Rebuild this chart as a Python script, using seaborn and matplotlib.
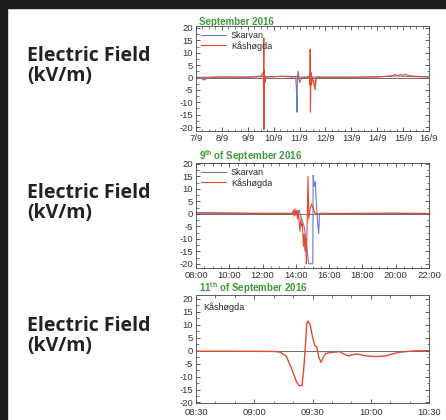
import matplotlib
matplotlib.use("Agg")
import matplotlib.pyplot as plt
from matplotlib.lines import Line2D
from matplotlib.patches import Rectangle
from matplotlib.ticker import AutoMinorLocator, FixedLocator
import pandas as pd
import seaborn as sns

# Painel 1: setembro 2016 (x em dias do mês)
P1_SKARVAN_T = [7.0, 7.2, 7.3, 7.4, 7.6, 8.0, 9.0, 9.5, 9.6, 9.7, 10.0, 10.5, 10.85, 10.88, 10.9,
                10.92, 10.95, 10.98, 11.0, 11.1, 12.0, 13.0, 14.0, 14.5, 14.7, 14.8, 14.9, 15.0,
                15.1, 15.2, 15.5, 16.0]
P1_SKARVAN_V = [0, -0.3, -1, -0.5, 0.1, 0.2, 0.1, 0.3, 0.5, 0.3, 0.4, 0.5, 0.3, -5, -14,
                0.5, 2.5, 0.5, 0.2, 0.1, 0.1, 0.1, 0.2, 0.6, 1.2, 0.8, 1.2, 1.0,
                1.3, 0.8, 0.5, 0.3]
P1_KASH_T = [7.0, 7.5, 8.0, 8.5, 9.0, 9.5, 9.6, 9.61, 9.62, 9.625, 9.63, 9.64, 9.65, 9.67, 9.7,
             9.8, 10.0, 10.3, 10.5, 10.7, 10.95, 11.0, 11.05, 11.1, 11.3, 11.38, 11.4, 11.41,
             11.42, 11.44, 11.46, 11.5, 11.6, 11.61, 11.62, 11.65, 12.0, 13.0, 14.0, 14.5,
             14.8, 15.0, 15.5, 16.0]
P1_KASH_V = [0.1, 0.1, 0.2, 0.2, 0.2, 0.5, 2, -4, 16, -21, 3, -8, 1, -2, 0.3,
             0.2, 0.3, 0.5, 0.3, 0.2, 0.5, -2, -1, 0, 0.2, 0.5, -3, 11.5,
             -14, 2, -3, 0.2, -5, -1, -3, 0.2, 0.1, 0.1, 0.3, 0.5,
             0.6, 0.5, 0.3, 0.2]
P1_TICKS = [7, 8, 9, 10, 11, 12, 13, 14, 15, 16]
P1_LABELS = ["7/9", "8/9", "9/9", "10/9", "11/9", "12/9", "13/9", "14/9", "15/9", "16/9"]

# Painel 2: 9 de setembro (x em horas)
P2_SKARVAN_T = [8, 10, 12, 13.8, 14.0, 14.2, 14.3, 14.4, 14.5, 14.6, 14.77, 15.02, 15.04, 15.1,
                15.17, 15.22, 15.3, 15.37, 15.42, 15.5, 16, 18, 20, 22]
P2_SKARVAN_V = [0.5, 0.4, 0.2, 0.2, 0.5, 1.5, -1, -3, -5, -10, -20, -20, 15.5, 11,
                13, 6, -3, -8, 0, 0.3, 0.2, 0.2, 0.3, 0.2]
P2_KASH_T = [8, 10, 12, 13.8, 13.86, 13.9, 13.95, 14.0, 14.05, 14.1, 14.15, 14.2, 14.25, 14.3,
             14.35, 14.4, 14.45, 14.5, 14.55, 14.6, 14.63, 14.68, 14.73, 14.78, 14.85, 14.95,
             15.05, 15.15, 15.3, 16, 18, 20, 22]
P2_KASH_V = [0.3, 0.2, 0.2, 0.2, 1.5, -1, 2, -0.5, 1.5, -2, 1, -3, -7, -2,
             -5, -4, -13, -8, -15, -10, -20, -3, 15, -2, 2, 4,
             2, 0.3, 0, 0.1, 0.2, 0.2, 0.1]
P2_TICKS = [8, 10, 12, 14, 16, 18, 20, 22]
P2_LABELS = ["08:00", "10:00", "12:00", "14:00", "16:00", "18:00", "20:00", "22:00"]

# Painel 3: 11 de setembro (x em minutos depois de 08:30)
P3_KASH_T = [0, 20, 40, 43, 46.4, 49, 51.5, 53, 54.6, 55.4, 56.2, 57, 57.6, 58.8, 60.1, 61.2,
             62.2, 63.2, 64.4, 65.6, 67, 70.4, 73.9, 77.3, 79, 80.6, 83.3, 87.6, 92.8, 97.9,
             101.4, 104.8, 111.7, 120]
P3_KASH_V = [-0.2, -0.2, -0.3, -0.5, -2, -6.5, -11.5, -13.5, -13.5, -7.7, 0, 10, 11.5, 10, 5, 2,
             1.5, -2.5, -4.5, -2.5, -1, -0.6, -0.4, -1.7, -2, -1.5, -1.3, -2, -2.3, -2,
             -1.2, -0.6, -0.1, 0]
P3_TICKS = [0, 30, 60, 90, 120]
P3_LABELS = ["08:30", "09:00", "09:30", "10:00", "10:30"]

TITULOS = ["September 2016", r"9$^{\mathbf{th}}$ of September 2016",
           r"11$^{\mathbf{th}}$ of September 2016"]
Y_TICKS = [20, 15, 10, 5, 0, -5, -10, -15, -20]

AZUL = "#6f78c4"
VERMELHO = "#e5482a"
VERDE = "#3f9a3a"

sns.set_style("ticks")
plt.rcParams["font.family"] = ["Liberation Sans", "DejaVu Sans"]
plt.rcParams["mathtext.fontset"] = "custom"
plt.rcParams["mathtext.bf"] = "Liberation Sans:bold"
plt.rcParams["axes.unicode_minus"] = False

fig = plt.figure(figsize=(4.46, 4.20), dpi=100)
fig.patch.set_facecolor("white")

# borda escura (topo e esquerda) do print original
fig.patches.append(Rectangle((0, 1 - 8 / 420), 1, 8 / 420, transform=fig.transFigure,
                             color="#1b1d1b", zorder=0))
fig.patches.append(Rectangle((0, 0), 7 / 446, 1, transform=fig.transFigure,
                             color="#1b1d1b", zorder=0))

W = 233 / 446
posicoes = [
    [196 / 446, 1 - 131 / 420, W, 105 / 420],
    [196 / 446, 1 - 268 / 420, W, 105 / 420],
    [196 / 446, 1 - 403 / 420, W, 108 / 420],
]
ylims = [(-21.6, 20.8), (-21.7, 20.4), (-20.2, 21.5)]
series = [
    [("Skarvan", P1_SKARVAN_T, P1_SKARVAN_V, AZUL), ("Kåshøgda", P1_KASH_T, P1_KASH_V, VERMELHO)],
    [("Skarvan", P2_SKARVAN_T, P2_SKARVAN_V, AZUL), ("Kåshøgda", P2_KASH_T, P2_KASH_V, VERMELHO)],
    [("Kåshøgda", P3_KASH_T, P3_KASH_V, VERMELHO)],
]
eixos_x = [(7, 16, P1_TICKS, P1_LABELS), (8, 22, P2_TICKS, P2_LABELS),
           (0, 120, P3_TICKS, P3_LABELS)]

for i in range(3):
    ax = fig.add_axes(posicoes[i])
    ax.axhline(0, color="#555555", lw=0.6, zorder=1)
    for nome, t, v, cor in series[i]:
        df = pd.DataFrame({"t": t, "v": v})
        sns.lineplot(data=df, x="t", y="v", ax=ax, color=cor, lw=0.8 if i < 2 else 1.0,
                     estimator=None, sort=False, label=nome if i < 2 else None, zorder=2)
    x0, x1, ticks, labels = eixos_x[i]
    ax.set_xlim(x0, x1)
    ax.set_ylim(*ylims[i])
    ax.xaxis.set_major_locator(FixedLocator(ticks))
    ax.set_xticklabels(labels)
    ax.set_yticks(Y_TICKS)
    ax.xaxis.set_minor_locator(AutoMinorLocator(4 if i < 2 else 3))
    ax.yaxis.set_minor_locator(AutoMinorLocator(2))
    ax.tick_params(which="both", direction="in", top=True, right=True,
                   labelsize=6.8, labelcolor="#333333", color="#444444", pad=2)
    ax.tick_params(axis="x", which="major", pad=3.5 if i == 2 else 2.5)
    ax.tick_params(which="major", length=3, width=0.6)
    ax.tick_params(which="minor", length=1.8, width=0.5)
    for s in ax.spines.values():
        s.set_linewidth(0.6)
        s.set_color("#444444")
    ax.set_xlabel("")
    ax.set_ylabel("")
    if i < 2:
        ax.legend(loc="upper left", fontsize=6.5, frameon=False, handlelength=2.8,
                  borderaxespad=0.15, labelspacing=0.1, handletextpad=0.5)
    else:
        ax.text(0.03, 0.93, "Kåshøgda", transform=ax.transAxes, fontsize=6.5,
                va="top", ha="left", color="#222222")
    ax.text(0.015, 0.99, TITULOS[i], transform=ax.transAxes, fontsize=7, fontweight="bold",
            color=VERDE, va="bottom", ha="left")
    if i == 1:
        # sublinhado verde do título do painel do dia 9
        ax.add_line(Line2D([0.015, 0.42], [0.998, 0.998], transform=ax.transAxes,
                           color=VERDE, lw=0.6, clip_on=False))

    # rótulo à esquerda
    yc = posicoes[i][1] + posicoes[i][3] * 0.62
    fig.text(27 / 446, yc, "Electric Field\n(kV/m)", fontsize=14, fontweight="bold",
             color="#222222", va="center", ha="left", linespacing=0.95,
             family=["Open Sans", "DejaVu Sans"])

fig.savefig("out.png", dpi=100)
